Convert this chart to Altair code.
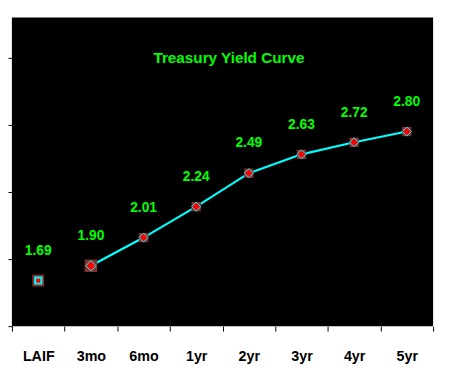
import altair as alt
import pandas as pd

terms = ["LAIF", "3mo", "6mo", "1yr", "2yr", "3yr", "4yr", "5yr"]
yields = [1.69, 1.80, 2.01, 2.24, 2.49, 2.63, 2.72, 2.80]
value_labels = ["1.69", "1.90", "2.01", "2.24", "2.49", "2.63", "2.72", "2.80"]
y_ticks = [1.35, 1.85, 2.35, 2.85, 3.35]
chart_title = "Treasury Yield Curve"

df = pd.DataFrame({"term": terms, "yield": yields, "label": value_labels})

FONT = "Liberation Sans"
GREEN = "#00FF00"
CYAN = "#00FFFF"
RED = "#FF0000"
DARK = "#833030"

x = alt.X(
    "term:N",
    sort=terms,
    scale=alt.Scale(type="band", paddingInner=0, paddingOuter=0),
    axis=alt.Axis(
        title=None, labelAngle=0, tickBand="extent", domain=False,
        tickSize=5, tickColor="black", labelColor="black",
        labelFont=FONT, labelFontSize=14.5, labelFontWeight="bold",
        labelPadding=19,
    ),
)
y = alt.Y(
    "yield:Q",
    scale=alt.Scale(domain=[1.35, 3.65], nice=False, zero=False),
    axis=alt.Axis(
        title=None, labels=False, values=y_ticks, grid=False,
        tickSize=4, tickColor="black", domain=True, domainColor="black",
    ),
)

base = alt.Chart(df).encode(x=x, y=y)

line = base.transform_filter(alt.datum.term != "LAIF").mark_line(
    color=CYAN, strokeWidth=2.2
)

laif = base.transform_filter(alt.datum.term == "LAIF")
laif_bg = laif.mark_point(shape="square", filled=True, color=DARK, size=144, opacity=1)
laif_fg = laif.mark_point(shape="square", filled=True, fill=RED, stroke=CYAN,
                          strokeWidth=2, size=40, opacity=1)

m3 = base.transform_filter(alt.datum.term == "3mo")
m3_bg = m3.mark_point(shape="square", filled=True, color=DARK, size=160, opacity=1)
m3_fg = m3.mark_point(shape="diamond", filled=True, fill=RED, stroke=CYAN,
                      strokeWidth=1, size=110, opacity=1)

rest = base.transform_filter((alt.datum.term != "LAIF") & (alt.datum.term != "3mo"))
rest_bg = rest.mark_point(shape="square", filled=True, color=DARK, size=90, opacity=1)
rest_fg = rest.mark_point(shape="diamond", filled=True, fill=RED, stroke=CYAN,
                          strokeWidth=1, size=85, opacity=1)

texts = base.mark_text(
    color=GREEN, font=FONT, fontSize=14, fontWeight="bold",
    baseline="middle", dy=-30,
).encode(text="label:N")

title = alt.Chart(pd.DataFrame({"t": [chart_title]})).mark_text(
    color=GREEN, font=FONT, fontSize=15.5, fontWeight="bold", baseline="middle"
).encode(text="t:N", x=alt.value(220), y=alt.value(41))

chart = alt.layer(
    line, laif_bg, laif_fg, m3_bg, m3_fg, rest_bg, rest_fg, texts, title
).properties(
    width=427, height=313,
    background="white",
    padding={"left": 4, "top": 7, "right": 8, "bottom": 50},
    autosize=alt.AutoSizeParams(type="none"),
).configure_view(fill="black", stroke=None)

chart.save("out.html", embed_options={"renderer": "svg", "actions": False})
